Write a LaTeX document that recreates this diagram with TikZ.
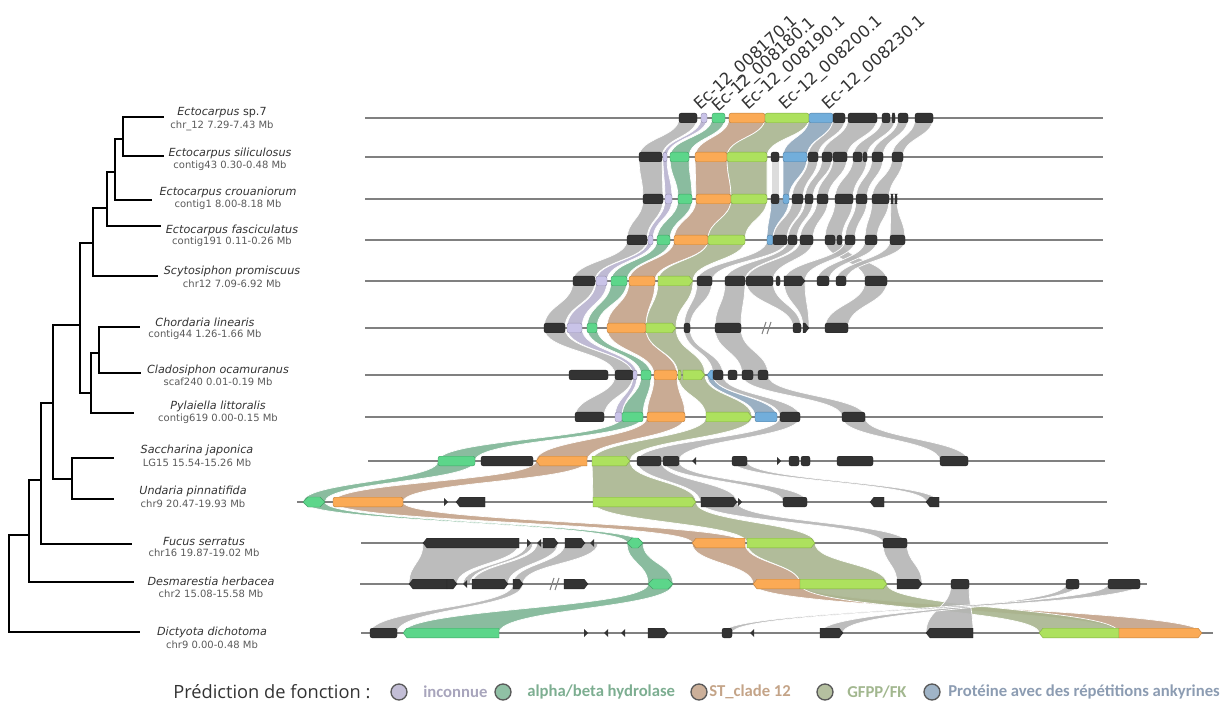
\documentclass[tikz,border=0pt]{standalone}
\usepackage{fontspec}
\setmainfont{DejaVu Sans}
\newfontfamily\osans{Open Sans}
\newfontfamily\carl{Carlito}
\definecolor{cK}{HTML}{333333}
\definecolor{cP}{HTML}{C9C3E8}
\definecolor{cN}{HTML}{5CD68A}
\definecolor{cO}{HTML}{FBAA55}
\definecolor{cL}{HTML}{ADE15E}
\definecolor{cB}{HTML}{72AEDB}
\definecolor{rG}{HTML}{B5B5B5}
\definecolor{rW}{HTML}{D8D8D8}
\definecolor{rP}{HTML}{B8B3CF}
\definecolor{rN}{HTML}{7DB595}
\definecolor{rO}{HTML}{C3A288}
\definecolor{rL}{HTML}{A8B58F}
\definecolor{rB}{HTML}{8FA7BD}
\definecolor{lnG}{HTML}{808080}
\definecolor{txA}{HTML}{333333}
\definecolor{txB}{HTML}{5A5A5A}
\definecolor{lgP}{HTML}{A8A5BC}
\definecolor{lgN}{HTML}{7DAE91}
\definecolor{lgO}{HTML}{C4A488}
\definecolor{lgL}{HTML}{A2B78F}
\definecolor{lgB}{HTML}{8C9CB2}
\newcommand{\rib}[7]{\fill[#7, fill opacity=0.9, draw=white, line width=0.5pt] (#1,#3) .. controls (#1,{(#3+#6)/2}) and (#4,{(#3+#6)/2}) .. (#4,#6) -- (#5,#6) .. controls (#5,{(#3+#6)/2}) and (#2,{(#3+#6)/2}) .. (#2,#3) -- cycle;}
\newcommand{\rb}[5]{\rib{#1}{#2}{\yu}{#3}{#4}{\yd}{#5}}
\newcommand{\gen}[4]{\filldraw[fill=#4, draw=#4!75!black, line width=0.3pt, rounded corners=1.6pt] (#1,#3-4.8) rectangle (#2,#3+4.8);}
\newcommand{\genR}[4]{\filldraw[fill=#4, draw=#4!75!black, line width=0.3pt] (#1,#3-4.8) -- ({#2-4},#3-4.8) -- (#2,#3) -- ({#2-4},#3+4.8) -- (#1,#3+4.8) -- cycle;}
\newcommand{\genL}[4]{\filldraw[fill=#4, draw=#4!75!black, line width=0.3pt] (#2,#3-4.8) -- ({#1+4},#3-4.8) -- (#1,#3) -- ({#1+4},#3+4.8) -- (#2,#3+4.8) -- cycle;}
\newcommand{\lens}[4]{\filldraw[fill=#4, draw=#4!75!black, line width=0.3pt] (#1,#3) -- ({#1+5},#3-5) -- ({#2-5},#3-5) -- (#2,#3) -- ({#2-5},#3+5) -- ({#1+5},#3+5) -- cycle;}
\newcommand{\triR}[2]{\fill[cK] (#1,#2-4) -- ({#1+4},#2) -- (#1,#2+4) -- cycle;}
\newcommand{\triL}[2]{\fill[cK] ({#1+4},#2-4) -- (#1,#2) -- ({#1+4},#2+4) -- cycle;}
\newcommand{\brk}[2]{\draw[lnG, line width=0.8pt] (#1,#2+6) -- ({#1+4},#2-6) (#1+5,#2+6) -- ({#1+9},#2-6);}
\tikzset{
  spname/.style={font=\fontsize{8.4}{9}\selectfont\itshape, text=txA, inner sep=0pt},
  spinfo/.style={font=\fontsize{7.5}{8}\selectfont, text=txB, inner sep=0pt},
  toplab/.style={font=\fontsize{12.3}{13}\selectfont, text=txA, anchor=base west, rotate=42, inner sep=0pt},
  tree/.style={line width=1.5pt, line cap=rect},
  track/.style={lnG, line width=1.1pt},
  legtxt/.style={font=\carl\bfseries\fontsize{12.5}{13}\selectfont, anchor=west, inner sep=0pt},
  legdot/.style={circle, minimum size=12pt, inner sep=0pt, draw=black!65, line width=1pt}
}
\begin{document}
\begin{tikzpicture}[x=0.75pt,y=-0.75pt]
\useasboundingbox (0,0) rectangle (1227,705);
% ---------------- tree
\draw[tree] (163,117) -- (123,117) -- (123,156) -- (163,156);
\draw[tree] (123,139) -- (115,139) -- (115,200) -- (151,200);
\draw[tree] (115,172) -- (107,172) -- (107,226) -- (160,226);
\draw[tree] (107,208) -- (93,208) -- (93,276) -- (157,276);
\draw[tree] (93,243) -- (80,243) -- (80,393) -- (91,393);
\draw[tree] (139,327) -- (99,327) -- (99,373) -- (140,373);
\draw[tree] (99,353) -- (91,353) -- (91,413) -- (133,413);
\draw[tree] (80,325) -- (53,325) -- (53,479) -- (72,479);
\draw[tree] (113,458) -- (72,458) -- (72,499) -- (113,499);
\draw[tree] (53,403) -- (41,403) -- (41,544) -- (131,544);
\draw[tree] (41,480) -- (29,480) -- (29,582) -- (133,582);
\draw[tree] (29,535) -- (9,535) -- (9,632) -- (139,632);
% ---------------- species labels
\node[spname] (n1) at (222,113) {Ectocarpus {\upshape sp.7}};
\node[spinfo] (i1) at (222,126) {chr\_12 7.29-7.43 Mb};
\node[spname] (n2) at (230,153) {Ectocarpus siliculosus};
\node[spinfo] (i2) at (230,166) {contig43 0.30-0.48 Mb};
\node[spname] (n3) at (228,192) {Ectocarpus crouaniorum};
\node[spinfo] (i3) at (228,205) {contig1 8.00-8.18 Mb};
\node[spname] (n4) at (232,230) {Ectocarpus fasciculatus};
\node[spinfo] (i4) at (232,242) {contig191 0.11-0.26 Mb};
\node[spname] (n5) at (232,271) {Scytosiphon promiscuus};
\node[spinfo] (i5) at (232,284) {chr12 7.09-6.92 Mb};
\node[spname] (n6) at (205,322) {Chordaria linearis};
\node[spinfo] (i6) at (205,335) {contig44 1.26-1.66 Mb};
\node[spname] (n7) at (218,370) {Cladosiphon ocamuranus};
\node[spinfo] (i7) at (218,382) {scaf240 0.01-0.19 Mb};
\node[spname] (n8) at (218,406) {Pylaiella littoralis};
\node[spinfo] (i8) at (218,419) {contig619 0.00-0.15 Mb};
\node[spname] (n9) at (197,450) {Saccharina japonica};
\node[spinfo] (i9) at (197,463) {LG15 15.54-15.26 Mb};
\node[spname] (n10) at (193,491) {Undaria pinnatifida};
\node[spinfo] (i10) at (193,504) {chr9 20.47-19.93 Mb};
\node[spname] (n11) at (204,541) {Fucus serratus};
\node[spinfo] (i11) at (204,553) {chr16 19.87-19.02 Mb};
\node[spname] (n12) at (211,581) {Desmarestia herbacea};
\node[spinfo] (i12) at (211,594) {chr2 15.08-15.58 Mb};
\node[spname] (n13) at (212,632) {Dictyota dichotoma};
\node[spinfo] (i13) at (212,645) {chr9 0.00-0.48 Mb};
% ---------------- top labels
\node[toplab] (l1) at (700,111) {Ec-12\_008170.1};
\node[toplab] (l2) at (718,113) {Ec-12\_008180.1};
\node[toplab] (l3) at (748,111) {Ec-12\_008190.1};
\node[toplab] (l4) at (785,111) {Ec-12\_008200.1};
\node[toplab] (l5) at (828,111) {Ec-12\_008230.1};
% ---------------- ribbons
\def\yu{118}\def\yd{157}
\rb{679}{697}{639}{662}{rG}
\rb{701}{707}{663}{667}{rP}
\rb{712}{725}{670}{689}{rN}
\rb{729}{765}{695}{727}{rO}
\rb{765}{809}{727}{767}{rL}
\rb{809}{833}{783}{807}{rB}
\rb{833}{845}{808}{818}{rG}
\rb{848}{877}{822}{847}{rG}
\rb{882}{895}{853}{867}{rG}
\rb{898}{908}{872}{883}{rG}
\rb{915}{933}{892}{903}{rG}
\def\yu{157}\def\yd{199}
\rb{639}{662}{643}{663}{rG}
\rb{663}{667}{665}{672}{rP}
\rb{670}{689}{678}{692}{rN}
\rb{695}{727}{696}{731}{rO}
\rb{727}{767}{731}{767}{rL}
\rb{771}{779}{771}{779}{rW}
\rb{783}{807}{783}{789}{rB}
\rb{808}{818}{792}{803}{rG}
\rb{822}{832}{805}{813}{rG}
\rb{833}{847}{817}{828}{rG}
\rb{853}{867}{835}{853}{rG}
\rb{872}{883}{856}{867}{rG}
\rb{892}{903}{872}{889}{rG}
\def\yu{199}\def\yd{240}
\rb{643}{663}{627}{647}{rG}
\rb{665}{672}{648}{653}{rP}
\rb{678}{692}{657}{670}{rN}
\rb{696}{731}{674}{708}{rO}
\rb{731}{767}{708}{745}{rL}
\rb{771}{789}{767}{773}{rB}
\rb{792}{803}{773}{787}{rG}
\rb{805}{813}{788}{797}{rG}
\rb{817}{828}{800}{813}{rG}
\rb{835}{853}{825}{842}{rG}
\rb{856}{867}{845}{855}{rG}
\rb{872}{889}{865}{877}{rG}
\rb{891}{897}{890}{905}{rG}
\def\yu{240}\def\yd{281}
\rb{627}{647}{573}{595}{rG}
\rb{648}{653}{596}{607}{rP}
\rb{657}{670}{611}{627}{rN}
\rb{674}{708}{629}{655}{rO}
\rb{708}{745}{658}{693}{rL}
\rb{767}{787}{697}{712}{rG}
\rb{788}{797}{725}{745}{rG}
\rb{800}{813}{746}{773}{rG}
\rb{825}{842}{865}{887}{rG}
\rb{845}{855}{784}{805}{rG}
\rb{865}{877}{817}{829}{rG}
\rb{890}{905}{836}{846}{rG}
\def\yu{281}\def\yd{328}
\rb{573}{595}{544}{565}{rG}
\rb{596}{607}{567}{582}{rP}
\rb{611}{627}{587}{597}{rN}
\rb{629}{655}{607}{646}{rO}
\rb{658}{693}{646}{676}{rL}
\rb{697}{712}{684}{690}{rG}
\rb{725}{745}{715}{741}{rG}
\rb{746}{773}{793}{801}{rG}
\rb{784}{805}{803}{809}{rG}
\rb{865}{887}{825}{848}{rG}
\def\yu{328}\def\yd{375}
\rb{544}{565}{615}{633}{rG}
\rb{567}{582}{633}{637}{rP}
\rb{587}{597}{641}{651}{rN}
\rb{607}{646}{654}{677}{rO}
\rb{646}{676}{678}{705}{rL}
\rb{684}{690}{713}{723}{rG}
\rb{715}{741}{742}{768}{rG}
\def\yu{375}\def\yd{417}
\rb{615}{633}{575}{604}{rG}
\rb{633}{637}{615}{622}{rP}
\rb{641}{651}{622}{643}{rN}
\rb{654}{677}{647}{685}{rO}
\rb{678}{705}{706}{752}{rL}
\rb{707}{713}{755}{777}{rB}
\rb{713}{723}{780}{800}{rG}
\rb{742}{768}{842}{865}{rG}
\def\yu{417}\def\yd{461}
\rb{622}{643}{438}{475}{rN}
\rb{647}{685}{536}{587}{rO}
\rb{706}{752}{592}{630}{rL}
\rb{780}{800}{637}{679}{rG}
\rb{842}{865}{940}{968}{rG}
\def\yu{461}\def\yd{502}
\rb{438}{475}{303}{325}{rN}
\rb{536}{587}{333}{403}{rO}
\rb{592}{630}{593}{696}{rL}
\rb{637}{661}{700}{737}{rG}
\rb{663}{679}{783}{807}{rG}
\rb{732}{747}{926}{939}{rG}
\def\yu{502}\def\yd{543}
\rb{303}{325}{627}{643}{rN}
\rb{333}{403}{692}{745}{rO}
\rb{593}{696}{747}{815}{rL}
\rb{700}{737}{883}{907}{rG}
\def\yu{543}\def\yd{584}
\rb{423}{519}{409}{457}{rG}
\rb{527}{533}{463}{470}{rG}
\rb{537}{558}{472}{508}{rG}
\rb{565}{598}{513}{523}{rG}
\rb{627}{643}{648}{673}{rN}
\rb{692}{745}{753}{800}{rO}
\rb{747}{815}{800}{887}{rL}
\rb{883}{907}{897}{922}{rG}
\def\yu{584}\def\yd{633}
\rb{513}{523}{370}{397}{rG}
\rb{648}{673}{403}{499}{rN}
\rb{753}{800}{1119}{1202}{rO}
\rb{800}{887}{1039}{1119}{rL}
\rb{951}{969}{926}{973}{rG}
\rb{1066}{1079}{820}{843}{rG}
\rb{1108}{1140}{722}{732}{rG}
% ---------------- track lines
\draw[track] (365,118) -- (1103,118);
\draw[track] (365,157) -- (1103,157);
\draw[track] (365,199) -- (1103,199);
\draw[track] (365,240) -- (1103,240);
\draw[track] (365,281) -- (1103,281);
\draw[track] (365,328) -- (1103,328);
\draw[track] (365,375) -- (1103,375);
\draw[track] (365,417) -- (1103,417);
\draw[track] (368,461) -- (1105,461);
\draw[track] (297,502) -- (1107,502);
\draw[track] (361,543) -- (1108,543);
\draw[track] (360,584) -- (1147,584);
\draw[track] (361,633) -- (1213,633);
% ---------------- genes
% T1
\gen{679}{697}{118}{cK}\gen{701}{707}{118}{cP}\gen{712}{725}{118}{cN}\gen{729}{765}{118}{cO}\gen{765}{809}{118}{cL}\gen{809}{833}{118}{cB}
\gen{833}{845}{118}{cK}\gen{848}{877}{118}{cK}\gen{882}{890}{118}{cK}\gen{892}{895}{118}{cK}\gen{898}{908}{118}{cK}\gen{915}{933}{118}{cK}
% T2
\gen{639}{662}{157}{cK}\gen{663}{667}{157}{cP}\gen{670}{689}{157}{cN}\gen{695}{727}{157}{cO}\gen{727}{767}{157}{cL}\gen{771}{779}{157}{cK}\gen{783}{807}{157}{cB}
\gen{808}{818}{157}{cK}\gen{822}{832}{157}{cK}\gen{833}{847}{157}{cK}\gen{853}{862}{157}{cK}\gen{863}{867}{157}{cK}\gen{872}{883}{157}{cK}\gen{892}{903}{157}{cK}
% T3
\gen{643}{663}{199}{cK}\gen{665}{672}{199}{cP}\gen{678}{692}{199}{cN}\gen{696}{731}{199}{cO}\gen{731}{767}{199}{cL}\gen{771}{779}{199}{cK}\gen{783}{789}{199}{cB}
\gen{792}{803}{199}{cK}\gen{805}{813}{199}{cK}\gen{817}{828}{199}{cK}\gen{835}{853}{199}{cK}\gen{856}{867}{199}{cK}\gen{872}{889}{199}{cK}\gen{891}{893}{199}{cK}\gen{895}{897}{199}{cK}
% T4
\gen{627}{647}{240}{cK}\gen{648}{653}{240}{cP}\gen{657}{670}{240}{cN}\gen{674}{708}{240}{cO}\gen{708}{745}{240}{cL}\gen{767}{773}{240}{cB}
\gen{773}{787}{240}{cK}\gen{788}{797}{240}{cK}\gen{800}{813}{240}{cK}\gen{825}{835}{240}{cK}\gen{837}{842}{240}{cK}\gen{845}{855}{240}{cK}\gen{865}{877}{240}{cK}\gen{890}{905}{240}{cK}
% T5
\gen{573}{595}{281}{cK}\gen{596}{607}{281}{cP}\gen{611}{627}{281}{cN}\gen{629}{655}{281}{cO}\genR{658}{693}{281}{cL}\gen{697}{712}{281}{cK}
\gen{725}{745}{281}{cK}\gen{746}{773}{281}{cK}\gen{776}{780}{281}{cK}\genR{784}{805}{281}{cK}\gen{817}{829}{281}{cK}\gen{836}{846}{281}{cK}\gen{865}{887}{281}{cK}
% T6
\gen{544}{565}{328}{cK}\gen{567}{582}{328}{cP}\gen{587}{597}{328}{cN}\gen{607}{646}{328}{cO}\genR{646}{676}{328}{cL}\gen{684}{690}{328}{cK}\gen{715}{741}{328}{cK}
\brk{762}{328}\gen{793}{801}{328}{cK}\genR{803}{809}{328}{cK}\gen{825}{848}{328}{cK}
% T7
\gen{569}{608}{375}{cK}\gen{615}{633}{375}{cK}\gen{633}{637}{375}{cP}\gen{641}{651}{375}{cN}\gen{654}{677}{375}{cO}\gen{678}{681}{375}{cL}\genR{683}{705}{375}{cL}\genL{707}{713}{375}{cB}
\gen{713}{723}{375}{cK}\gen{728}{737}{375}{cK}\gen{742}{753}{375}{cK}\gen{758}{768}{375}{cK}
% T8
\gen{575}{604}{417}{cK}\gen{615}{622}{417}{cP}\gen{622}{643}{417}{cN}\gen{647}{685}{417}{cO}\genR{706}{752}{417}{cL}\gen{755}{777}{417}{cB}\gen{780}{800}{417}{cK}\gen{842}{865}{417}{cK}
% T9
\gen{438}{475}{461}{cN}\gen{481}{533}{461}{cK}\genL{536}{587}{461}{cO}\genR{592}{630}{461}{cL}\gen{637}{661}{461}{cK}\gen{663}{679}{461}{cK}\triL{692}{461}
\gen{732}{747}{461}{cK}\triR{777}{461}\gen{789}{799}{461}{cK}\gen{801}{810}{461}{cK}\gen{837}{873}{461}{cK}\gen{940}{968}{461}{cK}
% T10
\lens{303}{325}{502}{cN}\gen{333}{403}{502}{cO}\triR{444}{502}\genL{456}{485}{502}{cK}\genR{593}{696}{502}{cL}\genR{701}{737}{502}{cK}\triR{738}{502}
\gen{783}{807}{502}{cK}\genL{870}{884}{502}{cK}\genL{926}{939}{502}{cK}
% T11
\genL{423}{519}{543}{cK}\triR{527}{543}\triL{537}{543}\genR{543}{558}{543}{cK}\genR{565}{585}{543}{cK}\triL{590}{543}
\lens{627}{643}{543}{cN}\genL{692}{745}{543}{cO}\genR{747}{815}{543}{cL}\gen{883}{907}{543}{cK}
% T12
\genL{409}{447}{584}{cK}\genR{447}{457}{584}{cK}\triL{463}{584}\genR{472}{508}{584}{cK}\genR{513}{523}{584}{cK}\brk{550}{584}\genR{564}{588}{584}{cK}
\lens{648}{673}{584}{cN}\genL{753}{800}{584}{cO}\genR{800}{887}{584}{cL}\genR{897}{922}{584}{cK}\gen{951}{969}{584}{cK}\gen{1066}{1079}{584}{cK}\gen{1108}{1140}{584}{cK}
% T13
\gen{370}{397}{633}{cK}\genL{403}{499}{633}{cN}\triR{584}{633}\triL{604}{633}\triL{621}{633}\genR{648}{668}{633}{cK}
\gen{722}{732}{633}{cK}\triL{750}{633}\genR{820}{843}{633}{cK}\genL{926}{973}{633}{cK}\genL{1039}{1119}{633}{cL}\genR{1119}{1202}{633}{cO}
% ---------------- legend
\node[font=\osans\fontsize{13.7}{15}\selectfont, text=txA, anchor=west, inner sep=0pt] (lt) at (173,692) {Prédiction de fonction :};
\node[legdot, fill=rP!85] (d1) at (399,692) {};
\node[legtxt, text=lgP] (t1) at (423,692) {inconnue};
\node[legdot, fill=rN!85] (d2) at (503,692) {};
\node[legtxt, text=lgN] (t2) at (527,692) {alpha/beta hydrolase};
\node[legdot, fill=rO!85] (d3) at (699,692) {};
\node[legtxt, text=lgO] (t3) at (709,692) {ST\_clade 12};
\node[legdot, fill=rL!85] (d4) at (825,692) {};
\node[legtxt, text=lgL] (t4) at (847,692) {GFPP/FK};
\node[legdot, fill=rB!85] (d5) at (932,692) {};
\node[legtxt, text=lgB] (t5) at (948,692) {Protéine avec des répétitions ankyrines};
\end{tikzpicture}
\end{document}
